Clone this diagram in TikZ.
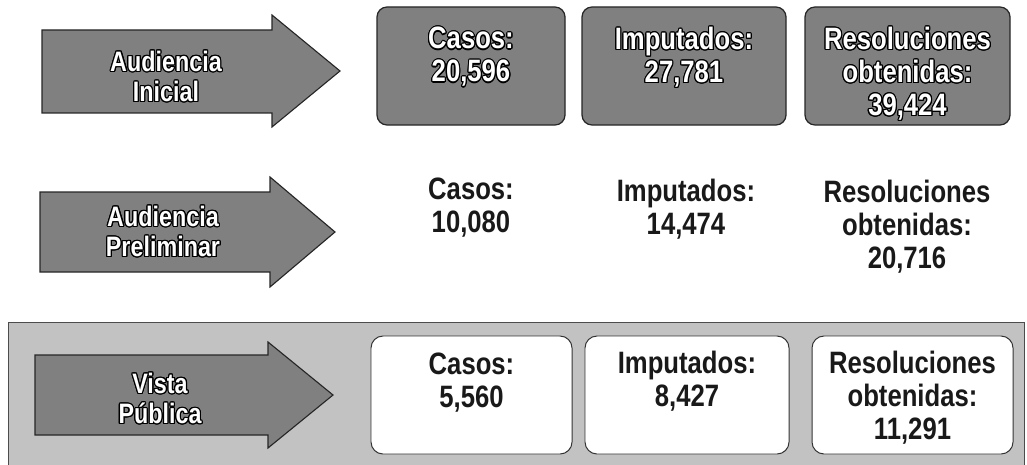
\documentclass[tikz,border=0pt]{standalone}
\usepackage{fontspec}
\setmainfont[FakeStretch=0.83]{Liberation Sans}
\usepackage{contour}
\contourlength{0.8pt}
\usetikzlibrary{positioning}

\begin{document}
\begin{tikzpicture}[x=0.25mm, y=-0.25mm,
  banda/.style={draw=black!70, line width=0.6pt, fill=black!24},
  flecha/.style={draw=black!85, line width=0.8pt, fill=black!50},
  caja/.style={draw=black!85, line width=0.9pt, rounded corners=2.5mm, fill=black!50, minimum height=29.5mm},
  cajab/.style={draw=black!80, line width=0.7pt, rounded corners=3mm, fill=white, minimum height=29.5mm},
  etapa/.style={text=white, font=\bfseries\fontsize{20}{21.5}\selectfont, align=center, inner sep=0pt},
  dato/.style={font=\bfseries\fontsize{22}{23.5}\selectfont, align=center, inner sep=0pt, anchor=north, text=black!90},
  datob/.style={dato, text=white}]
\useasboundingbox (0,0) rectangle (1027,465);
\draw[banda] (8,322) rectangle (1024,468);

% flechas
\draw[flecha] (42,30) -- (272,30) -- (272,15) -- (340,71) -- (272,127) -- (272,113) -- (42,113) -- cycle;
\draw[flecha] (40,192) -- (270,192) -- (270,177) -- (335,232) -- (270,287) -- (270,272) -- (40,272) -- cycle;
\draw[flecha] (35,355) -- (268,355) -- (268,342) -- (333,395) -- (268,448) -- (268,435) -- (35,435) -- cycle;
\node[etapa] (inicial) at (166,77) {\contour{black}{Audiencia}\\\contour{black}{Inicial}};
\node[etapa] (preliminar) at (163,232) {\contour{black}{Audiencia}\\\contour{black}{Preliminar}};
\node[etapa] (vista) at (160,399) {\contour{black}{Vista}\\\contour{black}{Pública}};

% audiencia inicial
\node[caja, minimum width=47mm] (cajaA1) at (471,66) {};
\node[caja, minimum width=51mm] (cajaA2) at (684,66) {};
\node[caja, minimum width=51.25mm] (cajaA3) at (907.5,66) {};
\node[datob] (casosA) at (471,27) {\contour{black}{Casos:}\\\contour{black}{20,596}};
\node[datob] (imputA) at (684,27) {\contour{black}{Imputados:}\\\contour{black}{27,781}};
\node[datob] (resolA) at (907.5,27) {\contour{black}{Resoluciones}\\\contour{black}{obtenidas:}\\\contour{black}{39,424}};

% audiencia preliminar
\node[dato] (casosB) at (471,178) {Casos:\\10,080};
\node[dato] (imputB) at (686,179) {Imputados:\\14,474};
\node[dato] (resolB) at (907,180) {Resoluciones\\obtenidas:\\20,716};

% vista publica
\node[cajab, minimum width=50.25mm] (cajaC1) at (471.5,395) {};
\node[cajab, minimum width=51mm] (cajaC2) at (687,395) {};
\node[cajab, minimum width=50.25mm] (cajaC3) at (912.5,395) {};
\node[dato] (casosC) at (471.5,353) {Casos:\\5,560};
\node[dato] (imputC) at (687,351) {Imputados:\\8,427};
\node[dato] (resolC) at (912.5,351) {Resoluciones\\obtenidas:\\11,291};
\end{tikzpicture}
\end{document}
